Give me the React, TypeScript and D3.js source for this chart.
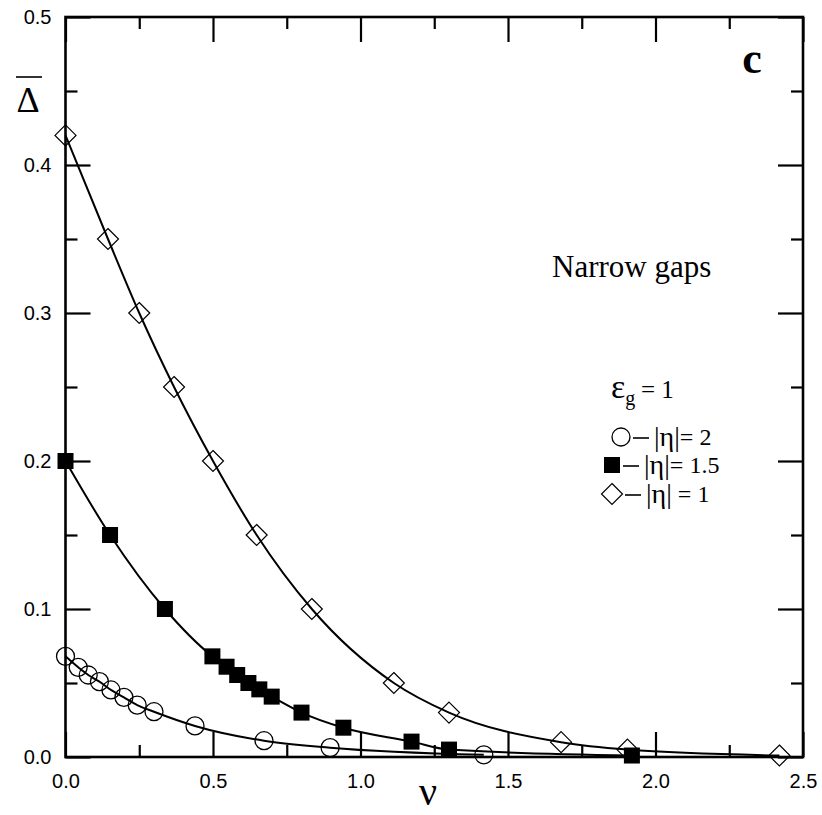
import React, { useRef, useEffect } from 'react';
import * as d3 from 'd3';

// |eta| = 2 (open circles)
const nuCircle = [0, 0.043, 0.077, 0.115, 0.154, 0.198, 0.243, 0.3, 0.439, 0.673, 0.897, 1.418];
const deltaCircle = [0.068, 0.0606, 0.0554, 0.0509, 0.0453, 0.0403, 0.0351, 0.0306, 0.021, 0.011, 0.0063, 0.0015];

// |eta| = 1.5 (filled squares)
const nuSquare = [0, 0.151, 0.337, 0.498, 0.546, 0.582, 0.62, 0.657, 0.699, 0.8, 0.942, 1.173, 1.3, 1.92];
const deltaSquare = [0.2, 0.15, 0.1, 0.068, 0.061, 0.0554, 0.05, 0.0457, 0.0408, 0.03, 0.0198, 0.0104, 0.005, 0.001];

// |eta| = 1 (open diamonds)
const nuDiamond = [0, 0.144, 0.25, 0.368, 0.5, 0.648, 0.835, 1.113, 1.3, 1.68, 1.905, 2.42];
const deltaDiamond = [0.42, 0.35, 0.3, 0.25, 0.2, 0.15, 0.1, 0.05, 0.03, 0.01, 0.005, 0.001];

const xMajor = [0, 0.5, 1.0, 1.5, 2.0, 2.5];
const xMinor = [0.25, 0.75, 1.25, 1.75, 2.25];
const yMajor = [0, 0.1, 0.2, 0.3, 0.4, 0.5];
const yMinor = [0.05, 0.15, 0.25, 0.35, 0.45];

const legendLabels = ['= 2', '= 1.5', ' = 1'];

const Chart = () => {
  const ref = useRef(null);

  useEffect(() => {
    const svg = d3.select(ref.current);
    svg.selectAll('*').remove();

    const width = 822;
    const height = 815;
    const margin = { top: 17, right: 19, bottom: 58, left: 65.5 };

    const x = d3.scaleLinear().domain([0, 2.5]).range([margin.left, width - margin.right]);
    const y = d3.scaleLinear().domain([0, 0.5]).range([height - margin.bottom, margin.top]);

    const tickFont = 'Liberation Sans, Arial, sans-serif';
    const serif = 'Liberation Serif, Times New Roman, serif';

    // ticks point inward; labels only on the bottom and left majors
    const styleAxis = g => {
      g.select('.domain').remove();
      g.selectAll('line').attr('stroke', '#000').attr('stroke-width', 2.2);
      g.selectAll('text').attr('font-family', tickFont).attr('font-size', 20).attr('fill', '#000');
    };

    const bottom = height - margin.bottom;
    const right = width - margin.right;

    svg.append('g')
      .attr('transform', `translate(0,${bottom})`)
      .call(d3.axisBottom(x).tickValues(xMajor).tickSize(-25).tickPadding(17).tickFormat(d3.format('.1f')))
      .call(styleAxis);
    svg.append('g')
      .attr('transform', `translate(0,${bottom})`)
      .call(d3.axisBottom(x).tickValues(xMinor).tickSize(-12).tickFormat(() => ''))
      .call(styleAxis);
    svg.append('g')
      .attr('transform', `translate(0,${margin.top})`)
      .call(d3.axisTop(x).tickValues(xMajor).tickSize(-25).tickFormat(() => ''))
      .call(styleAxis);
    svg.append('g')
      .attr('transform', `translate(0,${margin.top})`)
      .call(d3.axisTop(x).tickValues(xMinor).tickSize(-12).tickFormat(() => ''))
      .call(styleAxis);

    svg.append('g')
      .attr('transform', `translate(${margin.left},0)`)
      .call(d3.axisLeft(y).tickValues(yMajor).tickSize(-25).tickPadding(14).tickFormat(d3.format('.1f')))
      .call(styleAxis);
    svg.append('g')
      .attr('transform', `translate(${margin.left},0)`)
      .call(d3.axisLeft(y).tickValues(yMinor).tickSize(-12).tickFormat(() => ''))
      .call(styleAxis);
    svg.append('g')
      .attr('transform', `translate(${right},0)`)
      .call(d3.axisRight(y).tickValues(yMajor).tickSize(-25).tickFormat(() => ''))
      .call(styleAxis);
    svg.append('g')
      .attr('transform', `translate(${right},0)`)
      .call(d3.axisRight(y).tickValues(yMinor).tickSize(-12).tickFormat(() => ''))
      .call(styleAxis);

    // frame
    svg.append('rect')
      .attr('x', margin.left)
      .attr('y', margin.top)
      .attr('width', right - margin.left)
      .attr('height', bottom - margin.top)
      .attr('fill', 'none')
      .attr('stroke', '#000')
      .attr('stroke-width', 2.6);

    // curves
    const line = d3.line()
      .x(d => x(d[0]))
      .y(d => y(d[1]))
      .curve(d3.curveMonotoneX);

    const series = [
      { nu: nuCircle, delta: deltaCircle, kind: 'circle' },
      { nu: nuSquare, delta: deltaSquare, kind: 'square' },
      { nu: nuDiamond, delta: deltaDiamond, kind: 'diamond' },
    ];

    series.forEach(s => {
      const pts = s.nu.map((v, i) => [v, s.delta[i]]);
      svg.append('path')
        .datum(pts)
        .attr('fill', 'none')
        .attr('stroke', '#000')
        .attr('stroke-width', 2)
        .attr('d', line);
    });

    const drawMarker = (g, kind, cx, cy) => {
      if (kind === 'circle') {
        g.append('circle')
          .attr('cx', cx).attr('cy', cy).attr('r', 9)
          .attr('fill', 'none').attr('stroke', '#000').attr('stroke-width', 1.3);
      } else if (kind === 'square') {
        g.append('rect')
          .attr('x', cx - 8).attr('y', cy - 8).attr('width', 16).attr('height', 16)
          .attr('fill', '#000');
      } else {
        const r = 10.5;
        g.append('path')
          .attr('d', `M${cx},${cy - r}L${cx + r},${cy}L${cx},${cy + r}L${cx - r},${cy}Z`)
          .attr('fill', 'none').attr('stroke', '#000').attr('stroke-width', 1.2);
      }
    };

    series.forEach(s => {
      const g = svg.append('g');
      s.nu.forEach((v, i) => drawMarker(g, s.kind, x(v), y(s.delta[i])));
    });

    // axis titles
    svg.append('text')
      .attr('x', 28).attr('y', 112)
      .attr('text-anchor', 'middle')
      .attr('font-family', serif).attr('font-size', 36)
      .text('Δ');
    svg.append('line')
      .attr('x1', 16).attr('x2', 42).attr('y1', 77).attr('y2', 77)
      .attr('stroke', '#000').attr('stroke-width', 1.6);

    svg.append('text')
      .attr('x', 428).attr('y', 805)
      .attr('text-anchor', 'middle')
      .attr('font-family', serif).attr('font-size', 40)
      .text('ν');

    svg.append('text')
      .attr('x', 752).attr('y', 73)
      .attr('text-anchor', 'middle')
      .attr('font-family', serif).attr('font-size', 44).attr('font-weight', 'bold')
      .text('c');

    svg.append('text')
      .attr('x', 552).attr('y', 277)
      .attr('font-family', serif).attr('font-size', 31)
      .text('Narrow gaps');

    // legend
    const eps = svg.append('text')
      .attr('x', 611).attr('y', 398)
      .attr('font-family', serif);
    eps.append('tspan').attr('font-size', 34).text('ε');
    eps.append('tspan').attr('font-size', 20).attr('dy', 7).text('g');
    eps.append('tspan').attr('font-size', 25).attr('dy', -7).attr('x', 641).text('= 1');

    const legendRows = [
      { kind: 'circle', mx: 621, cy: 437, bar: 654 },
      { kind: 'square', mx: 612, cy: 465, bar: 644 },
      { kind: 'diamond', mx: 612, cy: 494, bar: 646 },
    ];

    legendRows.forEach((r, i) => {
      const g = svg.append('g');
      drawMarker(g, r.kind, r.mx, r.cy);
      g.append('line')
        .attr('x1', r.bar - 21).attr('x2', r.bar - 5)
        .attr('y1', r.cy + 1).attr('y2', r.cy + 1)
        .attr('stroke', '#000').attr('stroke-width', 1.6);
      const t = g.append('text')
        .attr('x', r.bar).attr('y', r.cy + 9)
        .attr('font-family', serif);
      t.append('tspan').attr('font-size', 28).text('|η|');
      t.append('tspan').attr('font-size', 24).attr('dy', -1).text(legendLabels[i]);
    });
  }, []);

  return (
    <svg
      ref={ref}
      width={822}
      height={815}
      style={{ position: 'absolute', left: 0, top: 0, background: '#fff' }}
    />
  );
};

export default function App() {
  return <Chart />;
}
